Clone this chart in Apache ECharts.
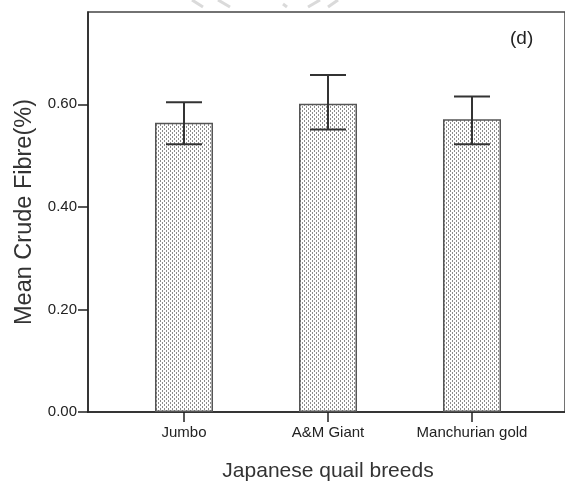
<!DOCTYPE html>
<html>
<head>
<meta charset="utf-8">
<script src="https://cdn.jsdelivr.net/npm/echarts@6/dist/echarts.min.js"></script>
<style>
  html, body { margin: 0; padding: 0; background: #fff; }
  #chart { width: 565px; height: 491px; }
</style>
</head>
<body>
<div id="chart"></div>
<script>
// Mean crude fibre by Japanese quail breed, with error bars
const categories = ['Jumbo', 'A&M Giant', 'Manchurian gold'];
const meanFibre = [0.564, 0.601, 0.571];
const upperFibre = [0.604, 0.657, 0.615];
const lowerFibre = [0.522, 0.551, 0.522];
const yTicks = [0, 0.2, 0.4, 0.6];

const FONT = "'Liberation Sans', Arial, sans-serif";

// dotted fill used inside the bars
function dotPattern() {
  const c = document.createElement('canvas');
  c.width = 4; c.height = 4;
  const ctx = c.getContext('2d');
  ctx.fillStyle = '#ffffff';
  ctx.fillRect(0, 0, 4, 4);
  ctx.fillStyle = '#8c8c8c';
  ctx.fillRect(0, 0, 1, 2);
  ctx.fillRect(2, 2, 1, 2);
  return c;
}

const chart = echarts.init(document.getElementById('chart'), null, { renderer: 'canvas' });

const errorData = categories.map((c, i) => [i, upperFibre[i], lowerFibre[i]]);

chart.setOption({
  animation: false,
  backgroundColor: '#ffffff',
  textStyle: { fontFamily: FONT },
  grid: [
    { left: 88, top: 12, width: 480, height: 400, show: true, borderColor: '#444', borderWidth: 1.5, backgroundColor: 'transparent' },
    { left: 112, top: 12, width: 432, height: 400 }
  ],
  xAxis: [
    {
      gridIndex: 0, type: 'value', min: 0, max: 1,
      axisLine: { show: true, lineStyle: { color: '#222', width: 1.5 } },
      axisTick: { show: false }, axisLabel: { show: false }, splitLine: { show: false }
    },
    {
      gridIndex: 1, type: 'category', data: categories,
      axisLine: { show: false },
      axisTick: { show: true, alignWithLabel: true, length: 10, lineStyle: { color: '#222', width: 1.5 } },
      axisLabel: { interval: 0, color: '#222', fontSize: 15, margin: 13, fontFamily: FONT },
      name: 'Japanese quail breeds', nameLocation: 'middle', nameGap: 49,
      nameTextStyle: { fontSize: 21, color: '#333', fontFamily: FONT }
    }
  ],
  yAxis: [
    {
      gridIndex: 0, type: 'value', min: 0, max: 0.78,
      axisLine: { show: true, lineStyle: { color: '#222', width: 1.5 } },
      axisTick: { show: true, length: 10, customValues: yTicks, lineStyle: { color: '#222', width: 1.5 } },
      axisLabel: { customValues: yTicks, formatter: v => v.toFixed(2), color: '#222', fontSize: 15, margin: 11, fontFamily: FONT },
      splitLine: { show: false },
      name: 'Mean Crude Fibre(%)', nameLocation: 'middle', nameGap: 51,
      nameTextStyle: { fontSize: 23.5, color: '#333', fontFamily: FONT }
    },
    { gridIndex: 1, type: 'value', min: 0, max: 0.78, show: false }
  ],
  series: [
    {
      type: 'bar', xAxisIndex: 1, yAxisIndex: 1,
      data: meanFibre, barWidth: 58,
      itemStyle: { color: { image: dotPattern(), repeat: 'repeat' }, borderColor: '#555', borderWidth: 1.5 }
    },
    {
      type: 'custom', xAxisIndex: 1, yAxisIndex: 1, z: 5,
      data: errorData,
      encode: { x: 0, y: [1, 2] },
      renderItem: function (params, api) {
        const top = api.coord([api.value(0), api.value(1)]);
        const bot = api.coord([api.value(0), api.value(2)]);
        const hw = 18;
        const style = { stroke: '#333', lineWidth: 2 };
        return {
          type: 'group',
          children: [
            { type: 'line', shape: { x1: top[0], y1: top[1], x2: bot[0], y2: bot[1] }, style },
            { type: 'line', shape: { x1: top[0] - hw, y1: top[1], x2: top[0] + hw, y2: top[1] }, style },
            { type: 'line', shape: { x1: bot[0] - hw, y1: bot[1], x2: bot[0] + hw, y2: bot[1] }, style }
          ]
        };
      }
    }
  ],
  graphic: [
    { type: 'text', left: 510, top: 29, style: { text: '(d)', fontSize: 19, fill: '#222', fontFamily: FONT } },
    // faint stamp strokes along the top edge
    { type: 'polyline', shape: { points: [[192, 0], [203, 7]] }, style: { stroke: '#dadada', lineWidth: 3 } },
    { type: 'polyline', shape: { points: [[218, 0], [230, 7]] }, style: { stroke: '#dadada', lineWidth: 3 } },
    { type: 'polyline', shape: { points: [[283, 4], [287, 7]] }, style: { stroke: '#dadada', lineWidth: 3 } },
    { type: 'polyline', shape: { points: [[320, 0], [308, 7]] }, style: { stroke: '#dadada', lineWidth: 3 } },
    { type: 'polyline', shape: { points: [[338, 0], [328, 7]] }, style: { stroke: '#dadada', lineWidth: 3 } }
  ]
});
</script>
</body>
</html>
